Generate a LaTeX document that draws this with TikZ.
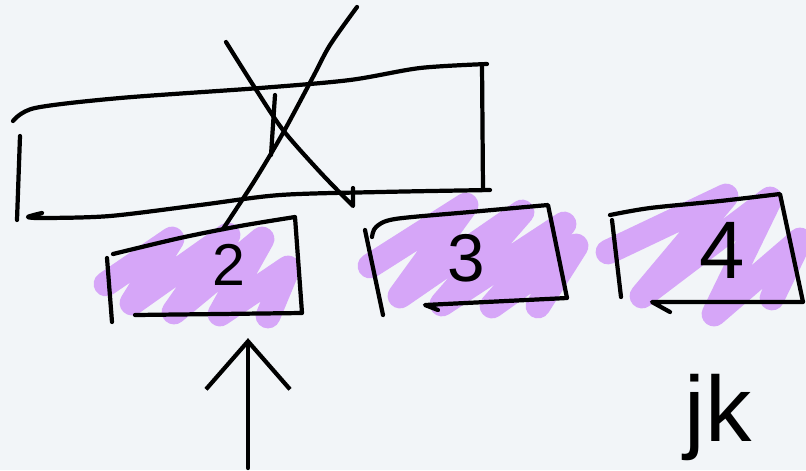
\documentclass[tikz,border=0pt]{standalone}
\usepackage{fontspec}
\setmainfont{Liberation Sans}
\usetikzlibrary{arrows.meta, positioning}
\definecolor{paper}{RGB}{242,245,248}
\definecolor{lilac}{RGB}{214,166,248}

\begin{document}
\begin{tikzpicture}[
    x=0.025cm, y=-0.025cm,
    pen/.style={line width=3pt, line cap=round, line join=round},
    scribble/.style={lilac, line width=0.62cm, line cap=round, line join=round},
    box/.style={rectangle, minimum width=4.9cm, minimum height=2.4cm, inner sep=0pt},
    num/.style={inner sep=0pt, font=\fontsize{48}{48}\selectfont},
    hand/.style={inner sep=0pt, font=\fontsize{66}{66}\selectfont},
    arrow/.style={pen, -{Straight Barb[length=1.2cm, width=2.1cm]}},
]

\fill[paper] (0,0) rectangle (806,470);
\useasboundingbox (0,0) rectangle (806,470);

% highlighter under the three boxes
\draw[scribble] (106,284) -- (172,239) -- (132,303) -- (228,235) -- (174,312) -- (262,239) -- (220,314) -- (288,268) -- (268,316);
\draw[scribble] (370,266) -- (466,205) -- (400,296) -- (522,212) -- (442,304) -- (564,224) -- (492,306) -- (576,246) -- (538,306);
\draw[scribble] (608,252) -- (726,196) -- (642,296) -- (770,199) -- (714,314) -- (800,240) -- (772,298);

% big box, crossed out
\draw[pen] plot[smooth] coordinates {(13,121) (35,108) (120,98) (260,88) (350,80) (420,68) (487,64)};
\draw[pen] (482,64) -- (483,190);
\draw[pen] plot[smooth] coordinates {(490,190) (380,192) (280,195) (200,205) (110,216) (45,218) (28,217) (42,213)};
\draw[pen] (20,136) -- (17,220);
\draw[pen] plot[smooth] coordinates {(226,42) (255,88) (283,130) (320,172) (353,206)} -- (353,188);
\draw[pen] plot[smooth] coordinates {(357,7) (330,45) (313,77) (283,133) (255,180) (223,229)};
\draw[pen] (275,95) -- (271,155);

% the small boxes
\node[box] (b2) at (205,265) {};
\node[box] (b3) at (466,258) {};
\node[box] (b4) at (706,250) {};

\draw[pen] plot[smooth] coordinates {(113,254) (180,238) (240,226) (295,217)} -- (302,313) -- (135,315);
\draw[pen] (107,258) -- (112,322);
\draw[pen] plot[smooth] coordinates {(372,237) (376,227) (395,219) (470,212) (548,205)} -- (567,298) -- (425,305) -- (438,310);
\draw[pen] (365,230) -- (383,315);
\draw[pen] plot[smooth] coordinates {(610,215) (650,208) (720,201) (780,194)} -- (803,302) -- (652,302) -- (670,312);
\draw[pen] (612,220) -- (621,297);

\node[num, font=\fontsize{42}{42}\selectfont] (t2) at ([xshift=0.6cm]b2.center) {2};
\node[num] (t3) at (b3.center) {3};
\node[num, font=\fontsize{58}{58}\selectfont] (t4) at ([xshift=0.4cm]b4.center) {4};

\coordinate (tail) at (248,468);
\draw[arrow, shorten >=0.62cm] (tail) -- (tail |- b2.south);

\node[hand, anchor=base] (jk) at (718,441) {jk};

\end{tikzpicture}
\end{document}
